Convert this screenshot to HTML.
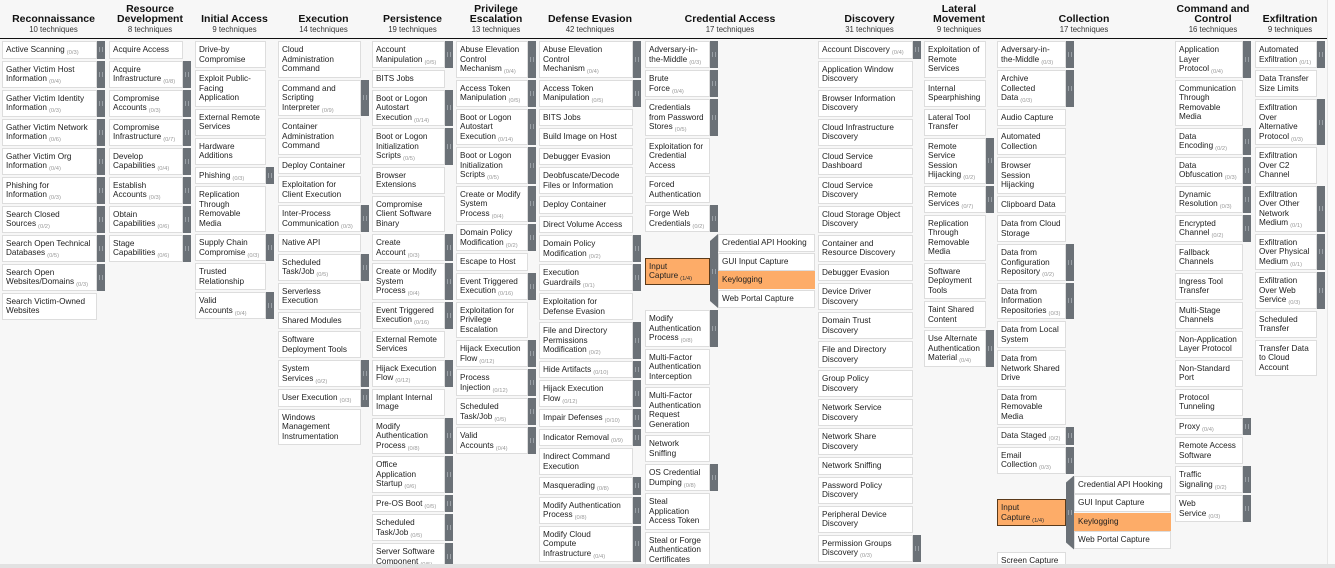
<!DOCTYPE html>
<html><head><meta charset="utf-8"><style>
*{box-sizing:border-box;margin:0;padding:0}
html,body{width:1335px;height:568px;overflow:hidden}
body{background:#f7f7f7;font-family:"Liberation Sans",sans-serif;color:#222;position:relative}
.h{position:absolute;top:0;height:35px;display:flex;flex-direction:column;justify-content:flex-end;text-align:center;white-space:nowrap}
.h .t{font-size:10.5px;line-height:10px;font-weight:bold;color:#111}
.h .s{font-size:7.8px;line-height:11px;color:#333}
.line{position:absolute;left:0;top:38px;width:1327px;height:1px;background:#111}
.col{position:absolute;top:41px}
.r{display:flex;margin-bottom:2px;align-items:stretch}
.c{width:var(--w);border:1px solid #ddd;background:#fff;padding:3px 3px;line-height:9.5px;font-size:8.2px;white-space:nowrap;flex:none;overflow:hidden}
.c i{font-style:normal;font-size:5.8px;color:#999;line-height:0;position:relative;top:2px;margin-left:2px}
.b{width:8px;background:#6b7177;flex:none;display:flex;align-items:center;justify-content:center}
.b::after{content:"";width:2px;height:5px;border-left:1px solid #9aa0a6;border-right:1px solid #9aa0a6}
.x{align-items:center}
.x .b{align-self:stretch;clip-path:polygon(0 7px,100% 0,100% 100%,0 calc(100% - 7px))}
.sel{background:#fdac68;border:1px solid #5a3a1a}
.subs{display:flex;flex-direction:column}
.subs .c{width:97px;margin-bottom:0.5px;padding:3.25px 3px}
.subs .o{background:#fdac68;border-color:#fdac68}
.sb{position:absolute;left:0;top:564px;width:1335px;height:4px;background:#e2e2e2}
.vs{position:absolute;left:1327px;top:0;width:8px;height:568px;background:#fafafa;border-left:1px solid #e6e6e6}
</style></head><body>
<div class="line"></div>

<div class="h" style="left:2px;width:103px"><div class="t">Reconnaissance</div><div class="s">10 techniques</div></div>
<div class="h" style="left:109px;width:82px"><div class="t">Resource<br>Development</div><div class="s">8 techniques</div></div>
<div class="h" style="left:195px;width:79px"><div class="t">Initial Access</div><div class="s">9 techniques</div></div>
<div class="h" style="left:278px;width:91px"><div class="t">Execution</div><div class="s">14 techniques</div></div>
<div class="h" style="left:372px;width:81px"><div class="t">Persistence</div><div class="s">19 techniques</div></div>
<div class="h" style="left:456px;width:80px"><div class="t">Privilege<br>Escalation</div><div class="s">13 techniques</div></div>
<div class="h" style="left:539px;width:102px"><div class="t">Defense Evasion</div><div class="s">42 techniques</div></div>
<div class="h" style="left:645px;width:170px"><div class="t">Credential Access</div><div class="s">17 techniques</div></div>
<div class="h" style="left:818px;width:103px"><div class="t">Discovery</div><div class="s">31 techniques</div></div>
<div class="h" style="left:924px;width:70px"><div class="t">Lateral<br>Movement</div><div class="s">9 techniques</div></div>
<div class="h" style="left:997px;width:174px"><div class="t">Collection</div><div class="s">17 techniques</div></div>
<div class="h" style="left:1175px;width:76px"><div class="t">Command and<br>Control</div><div class="s">16 techniques</div></div>
<div class="h" style="left:1255px;width:70px"><div class="t">Exfiltration</div><div class="s">9 techniques</div></div>

<div class="col" style="left:2px;--w:95px">
<div class="r"><div class="c">Active Scanning<i>(0/3)</i></div><div class="b"></div></div>
<div class="r"><div class="c">Gather Victim Host<br>Information<i>(0/4)</i></div><div class="b"></div></div>
<div class="r"><div class="c">Gather Victim Identity<br>Information<i>(0/3)</i></div><div class="b"></div></div>
<div class="r"><div class="c">Gather Victim Network<br>Information<i>(0/6)</i></div><div class="b"></div></div>
<div class="r"><div class="c">Gather Victim Org<br>Information<i>(0/4)</i></div><div class="b"></div></div>
<div class="r"><div class="c">Phishing for<br>Information<i>(0/3)</i></div><div class="b"></div></div>
<div class="r"><div class="c">Search Closed<br>Sources<i>(0/2)</i></div><div class="b"></div></div>
<div class="r"><div class="c">Search Open Technical<br>Databases<i>(0/5)</i></div><div class="b"></div></div>
<div class="r"><div class="c">Search Open<br>Websites/Domains<i>(0/3)</i></div><div class="b"></div></div>
<div class="r"><div class="c">Search Victim-Owned<br>Websites</div></div>
</div>

<div class="col" style="left:109px;--w:74px">
<div class="r"><div class="c">Acquire Access</div></div>
<div class="r"><div class="c">Acquire<br>Infrastructure<i>(0/8)</i></div><div class="b"></div></div>
<div class="r"><div class="c">Compromise<br>Accounts<i>(0/3)</i></div><div class="b"></div></div>
<div class="r"><div class="c">Compromise<br>Infrastructure<i>(0/7)</i></div><div class="b"></div></div>
<div class="r"><div class="c">Develop<br>Capabilities<i>(0/4)</i></div><div class="b"></div></div>
<div class="r"><div class="c">Establish<br>Accounts<i>(0/3)</i></div><div class="b"></div></div>
<div class="r"><div class="c">Obtain<br>Capabilities<i>(0/6)</i></div><div class="b"></div></div>
<div class="r"><div class="c">Stage<br>Capabilities<i>(0/6)</i></div><div class="b"></div></div>
</div>

<div class="col" style="left:195px;--w:71px">
<div class="r"><div class="c">Drive-by<br>Compromise</div></div>
<div class="r"><div class="c">Exploit Public-<br>Facing<br>Application</div></div>
<div class="r"><div class="c">External Remote<br>Services</div></div>
<div class="r"><div class="c">Hardware<br>Additions</div></div>
<div class="r"><div class="c">Phishing<i>(0/3)</i></div><div class="b"></div></div>
<div class="r"><div class="c">Replication<br>Through<br>Removable<br>Media</div></div>
<div class="r"><div class="c">Supply Chain<br>Compromise<i>(0/3)</i></div><div class="b"></div></div>
<div class="r"><div class="c">Trusted<br>Relationship</div></div>
<div class="r"><div class="c">Valid<br>Accounts<i>(0/4)</i></div><div class="b"></div></div>
</div>

<div class="col" style="left:278px;--w:83px">
<div class="r"><div class="c">Cloud<br>Administration<br>Command</div></div>
<div class="r"><div class="c">Command and<br>Scripting<br>Interpreter<i>(0/9)</i></div><div class="b"></div></div>
<div class="r"><div class="c">Container<br>Administration<br>Command</div></div>
<div class="r"><div class="c">Deploy Container</div></div>
<div class="r"><div class="c">Exploitation for<br>Client Execution</div></div>
<div class="r"><div class="c">Inter-Process<br>Communication<i>(0/3)</i></div><div class="b"></div></div>
<div class="r"><div class="c">Native API</div></div>
<div class="r"><div class="c">Scheduled<br>Task/Job<i>(0/5)</i></div><div class="b"></div></div>
<div class="r"><div class="c">Serverless<br>Execution</div></div>
<div class="r"><div class="c">Shared Modules</div></div>
<div class="r"><div class="c">Software<br>Deployment Tools</div></div>
<div class="r"><div class="c">System<br>Services<i>(0/2)</i></div><div class="b"></div></div>
<div class="r"><div class="c">User Execution<i>(0/3)</i></div><div class="b"></div></div>
<div class="r"><div class="c">Windows<br>Management<br>Instrumentation</div></div>
</div>

<div class="col" style="left:372px;--w:73px">
<div class="r"><div class="c">Account<br>Manipulation<i>(0/5)</i></div><div class="b"></div></div>
<div class="r"><div class="c">BITS Jobs</div></div>
<div class="r"><div class="c">Boot or Logon<br>Autostart<br>Execution<i>(0/14)</i></div><div class="b"></div></div>
<div class="r"><div class="c">Boot or Logon<br>Initialization<br>Scripts<i>(0/5)</i></div><div class="b"></div></div>
<div class="r"><div class="c">Browser<br>Extensions</div></div>
<div class="r"><div class="c">Compromise<br>Client Software<br>Binary</div></div>
<div class="r"><div class="c">Create<br>Account<i>(0/3)</i></div><div class="b"></div></div>
<div class="r"><div class="c">Create or Modify<br>System<br>Process<i>(0/4)</i></div><div class="b"></div></div>
<div class="r"><div class="c">Event Triggered<br>Execution<i>(0/16)</i></div><div class="b"></div></div>
<div class="r"><div class="c">External Remote<br>Services</div></div>
<div class="r"><div class="c">Hijack Execution<br>Flow<i>(0/12)</i></div><div class="b"></div></div>
<div class="r"><div class="c">Implant Internal<br>Image</div></div>
<div class="r"><div class="c">Modify<br>Authentication<br>Process<i>(0/8)</i></div><div class="b"></div></div>
<div class="r"><div class="c">Office<br>Application<br>Startup<i>(0/6)</i></div><div class="b"></div></div>
<div class="r"><div class="c">Pre-OS Boot<i>(0/5)</i></div><div class="b"></div></div>
<div class="r"><div class="c">Scheduled<br>Task/Job<i>(0/5)</i></div><div class="b"></div></div>
<div class="r"><div class="c">Server Software<br>Component<i>(0/5)</i></div><div class="b"></div></div>
</div>

<div class="col" style="left:456px;--w:72px">
<div class="r"><div class="c">Abuse Elevation<br>Control<br>Mechanism<i>(0/4)</i></div><div class="b"></div></div>
<div class="r"><div class="c">Access Token<br>Manipulation<i>(0/5)</i></div><div class="b"></div></div>
<div class="r"><div class="c">Boot or Logon<br>Autostart<br>Execution<i>(0/14)</i></div><div class="b"></div></div>
<div class="r"><div class="c">Boot or Logon<br>Initialization<br>Scripts<i>(0/5)</i></div><div class="b"></div></div>
<div class="r"><div class="c">Create or Modify<br>System<br>Process<i>(0/4)</i></div><div class="b"></div></div>
<div class="r"><div class="c">Domain Policy<br>Modification<i>(0/2)</i></div><div class="b"></div></div>
<div class="r"><div class="c">Escape to Host</div></div>
<div class="r"><div class="c">Event Triggered<br>Execution<i>(0/16)</i></div><div class="b"></div></div>
<div class="r"><div class="c">Exploitation for<br>Privilege<br>Escalation</div></div>
<div class="r"><div class="c">Hijack Execution<br>Flow<i>(0/12)</i></div><div class="b"></div></div>
<div class="r"><div class="c">Process<br>Injection<i>(0/12)</i></div><div class="b"></div></div>
<div class="r"><div class="c">Scheduled<br>Task/Job<i>(0/5)</i></div><div class="b"></div></div>
<div class="r"><div class="c">Valid<br>Accounts<i>(0/4)</i></div><div class="b"></div></div>
</div>

<div class="col" style="left:539px;--w:94px">
<div class="r"><div class="c">Abuse Elevation<br>Control<br>Mechanism<i>(0/4)</i></div><div class="b"></div></div>
<div class="r"><div class="c">Access Token<br>Manipulation<i>(0/5)</i></div><div class="b"></div></div>
<div class="r"><div class="c">BITS Jobs</div></div>
<div class="r"><div class="c">Build Image on Host</div></div>
<div class="r"><div class="c">Debugger Evasion</div></div>
<div class="r"><div class="c">Deobfuscate/Decode<br>Files or Information</div></div>
<div class="r"><div class="c">Deploy Container</div></div>
<div class="r"><div class="c">Direct Volume Access</div></div>
<div class="r"><div class="c">Domain Policy<br>Modification<i>(0/2)</i></div><div class="b"></div></div>
<div class="r"><div class="c">Execution<br>Guardrails<i>(0/1)</i></div><div class="b"></div></div>
<div class="r"><div class="c">Exploitation for<br>Defense Evasion</div></div>
<div class="r"><div class="c">File and Directory<br>Permissions<br>Modification<i>(0/2)</i></div><div class="b"></div></div>
<div class="r"><div class="c">Hide Artifacts<i>(0/10)</i></div><div class="b"></div></div>
<div class="r"><div class="c">Hijack Execution<br>Flow<i>(0/12)</i></div><div class="b"></div></div>
<div class="r"><div class="c">Impair Defenses<i>(0/10)</i></div><div class="b"></div></div>
<div class="r"><div class="c">Indicator Removal<i>(0/9)</i></div><div class="b"></div></div>
<div class="r"><div class="c">Indirect Command<br>Execution</div></div>
<div class="r"><div class="c">Masquerading<i>(0/8)</i></div><div class="b"></div></div>
<div class="r"><div class="c">Modify Authentication<br>Process<i>(0/8)</i></div><div class="b"></div></div>
<div class="r"><div class="c">Modify Cloud<br>Compute<br>Infrastructure<i>(0/4)</i></div><div class="b"></div></div>
<div class="r"><div class="c">Modify System<br>Image<i>(0/2)</i></div><div class="b"></div></div>
</div>

<div class="col" style="left:645px;--w:65px">
<div class="r"><div class="c">Adversary-in-<br>the-Middle<i>(0/3)</i></div><div class="b"></div></div>
<div class="r"><div class="c">Brute<br>Force<i>(0/4)</i></div><div class="b"></div></div>
<div class="r"><div class="c">Credentials<br>from Password<br>Stores<i>(0/5)</i></div><div class="b"></div></div>
<div class="r"><div class="c">Exploitation for<br>Credential<br>Access</div></div>
<div class="r"><div class="c">Forced<br>Authentication</div></div>
<div class="r"><div class="c">Forge Web<br>Credentials<i>(0/2)</i></div><div class="b"></div></div>
<div class="r x"><div class="c sel">Input<br>Capture<i style="color:#333">(1/4)</i></div><div class="b"></div>
<div class="subs"><div class="c">Credential API Hooking</div><div class="c">GUI Input Capture</div><div class="c o">Keylogging</div><div class="c">Web Portal Capture</div></div></div>
<div class="r"><div class="c">Modify<br>Authentication<br>Process<i>(0/8)</i></div><div class="b"></div></div>
<div class="r"><div class="c">Multi-Factor<br>Authentication<br>Interception</div></div>
<div class="r"><div class="c">Multi-Factor<br>Authentication<br>Request<br>Generation</div></div>
<div class="r"><div class="c">Network<br>Sniffing</div></div>
<div class="r"><div class="c">OS Credential<br>Dumping<i>(0/8)</i></div><div class="b"></div></div>
<div class="r"><div class="c">Steal<br>Application<br>Access Token</div></div>
<div class="r"><div class="c">Steal or Forge<br>Authentication<br>Certificates</div></div>
</div>

<div class="col" style="left:818px;--w:95px">
<div class="r"><div class="c">Account Discovery<i>(0/4)</i></div><div class="b"></div></div>
<div class="r"><div class="c">Application Window<br>Discovery</div></div>
<div class="r"><div class="c">Browser Information<br>Discovery</div></div>
<div class="r"><div class="c">Cloud Infrastructure<br>Discovery</div></div>
<div class="r"><div class="c">Cloud Service<br>Dashboard</div></div>
<div class="r"><div class="c">Cloud Service<br>Discovery</div></div>
<div class="r"><div class="c">Cloud Storage Object<br>Discovery</div></div>
<div class="r"><div class="c">Container and<br>Resource Discovery</div></div>
<div class="r"><div class="c">Debugger Evasion</div></div>
<div class="r"><div class="c">Device Driver<br>Discovery</div></div>
<div class="r"><div class="c">Domain Trust<br>Discovery</div></div>
<div class="r"><div class="c">File and Directory<br>Discovery</div></div>
<div class="r"><div class="c">Group Policy<br>Discovery</div></div>
<div class="r"><div class="c">Network Service<br>Discovery</div></div>
<div class="r"><div class="c">Network Share<br>Discovery</div></div>
<div class="r"><div class="c">Network Sniffing</div></div>
<div class="r"><div class="c">Password Policy<br>Discovery</div></div>
<div class="r"><div class="c">Peripheral Device<br>Discovery</div></div>
<div class="r"><div class="c">Permission Groups<br>Discovery<i>(0/3)</i></div><div class="b"></div></div>
<div class="r"><div class="c">Process Discovery</div></div>
</div>

<div class="col" style="left:924px;--w:62px">
<div class="r"><div class="c">Exploitation of<br>Remote<br>Services</div></div>
<div class="r"><div class="c">Internal<br>Spearphishing</div></div>
<div class="r"><div class="c">Lateral Tool<br>Transfer</div></div>
<div class="r"><div class="c">Remote<br>Service<br>Session<br>Hijacking<i>(0/2)</i></div><div class="b"></div></div>
<div class="r"><div class="c">Remote<br>Services<i>(0/7)</i></div><div class="b"></div></div>
<div class="r"><div class="c">Replication<br>Through<br>Removable<br>Media</div></div>
<div class="r"><div class="c">Software<br>Deployment<br>Tools</div></div>
<div class="r"><div class="c">Taint Shared<br>Content</div></div>
<div class="r"><div class="c">Use Alternate<br>Authentication<br>Material<i>(0/4)</i></div><div class="b"></div></div>
</div>

<div class="col" style="left:997px;--w:69px">
<div class="r"><div class="c">Adversary-in-<br>the-Middle<i>(0/3)</i></div><div class="b"></div></div>
<div class="r"><div class="c">Archive<br>Collected<br>Data<i>(0/3)</i></div><div class="b"></div></div>
<div class="r"><div class="c">Audio Capture</div></div>
<div class="r"><div class="c">Automated<br>Collection</div></div>
<div class="r"><div class="c">Browser<br>Session<br>Hijacking</div></div>
<div class="r"><div class="c">Clipboard Data</div></div>
<div class="r"><div class="c">Data from Cloud<br>Storage</div></div>
<div class="r"><div class="c">Data from<br>Configuration<br>Repository<i>(0/2)</i></div><div class="b"></div></div>
<div class="r"><div class="c">Data from<br>Information<br>Repositories<i>(0/3)</i></div><div class="b"></div></div>
<div class="r"><div class="c">Data from Local<br>System</div></div>
<div class="r"><div class="c">Data from<br>Network Shared<br>Drive</div></div>
<div class="r"><div class="c">Data from<br>Removable<br>Media</div></div>
<div class="r"><div class="c">Data Staged<i>(0/2)</i></div><div class="b"></div></div>
<div class="r"><div class="c">Email<br>Collection<i>(0/3)</i></div><div class="b"></div></div>
<div class="r x"><div class="c sel">Input<br>Capture<i style="color:#333">(1/4)</i></div><div class="b"></div>
<div class="subs"><div class="c">Credential API Hooking</div><div class="c">GUI Input Capture</div><div class="c o">Keylogging</div><div class="c">Web Portal Capture</div></div></div>
<div class="r"><div class="c">Screen Capture</div></div>
</div>

<div class="col" style="left:1175px;--w:68px">
<div class="r"><div class="c">Application<br>Layer<br>Protocol<i>(0/4)</i></div><div class="b"></div></div>
<div class="r"><div class="c">Communication<br>Through<br>Removable<br>Media</div></div>
<div class="r"><div class="c">Data<br>Encoding<i>(0/2)</i></div><div class="b"></div></div>
<div class="r"><div class="c">Data<br>Obfuscation<i>(0/3)</i></div><div class="b"></div></div>
<div class="r"><div class="c">Dynamic<br>Resolution<i>(0/3)</i></div><div class="b"></div></div>
<div class="r"><div class="c">Encrypted<br>Channel<i>(0/2)</i></div><div class="b"></div></div>
<div class="r"><div class="c">Fallback<br>Channels</div></div>
<div class="r"><div class="c">Ingress Tool<br>Transfer</div></div>
<div class="r"><div class="c">Multi-Stage<br>Channels</div></div>
<div class="r"><div class="c">Non-Application<br>Layer Protocol</div></div>
<div class="r"><div class="c">Non-Standard<br>Port</div></div>
<div class="r"><div class="c">Protocol<br>Tunneling</div></div>
<div class="r"><div class="c">Proxy<i>(0/4)</i></div><div class="b"></div></div>
<div class="r"><div class="c">Remote Access<br>Software</div></div>
<div class="r"><div class="c">Traffic<br>Signaling<i>(0/2)</i></div><div class="b"></div></div>
<div class="r"><div class="c">Web<br>Service<i>(0/3)</i></div><div class="b"></div></div>
</div>

<div class="col" style="left:1255px;--w:62px">
<div class="r"><div class="c">Automated<br>Exfiltration<i>(0/1)</i></div><div class="b"></div></div>
<div class="r"><div class="c">Data Transfer<br>Size Limits</div></div>
<div class="r"><div class="c">Exfiltration<br>Over<br>Alternative<br>Protocol<i>(0/3)</i></div><div class="b"></div></div>
<div class="r"><div class="c">Exfiltration<br>Over C2<br>Channel</div></div>
<div class="r"><div class="c">Exfiltration<br>Over Other<br>Network<br>Medium<i>(0/1)</i></div><div class="b"></div></div>
<div class="r"><div class="c">Exfiltration<br>Over Physical<br>Medium<i>(0/1)</i></div><div class="b"></div></div>
<div class="r"><div class="c">Exfiltration<br>Over Web<br>Service<i>(0/3)</i></div><div class="b"></div></div>
<div class="r"><div class="c">Scheduled<br>Transfer</div></div>
<div class="r"><div class="c">Transfer Data<br>to Cloud<br>Account</div></div>
</div>

<div class="vs"></div>
<div class="sb"></div>
</body></html>
